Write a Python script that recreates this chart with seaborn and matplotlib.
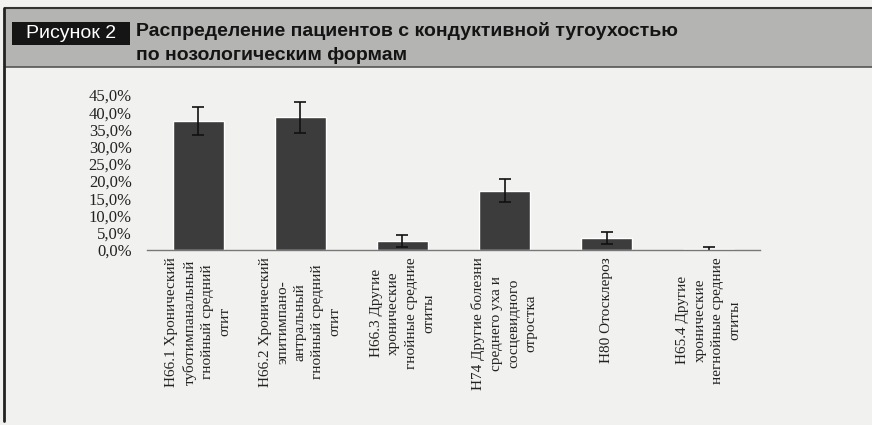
import numpy as np
import pandas as pd
import matplotlib
matplotlib.use("Agg")
import matplotlib.pyplot as plt
import seaborn as sns
from matplotlib.patches import Rectangle
from matplotlib.lines import Line2D
from matplotlib.ticker import MultipleLocator, FuncFormatter

# данные
categories = [
    "H66.1 Хронический\nтуботимпанальный\nгнойный средний\nотит",
    "H66.2 Хронический\nэпитимпано-\nантральный\nгнойный средний\nотит",
    "H66.3 Другие\nхронические\nгнойные средние\nотиты",
    "H74 Другие болезни\nсреднего уха и\nсосцевидного\nотростка",
    "H80 Отосклероз",
    "H65.4 Другие\nхронические\nнегнойные средние\nотиты",
]
values = [37.4, 38.6, 2.6, 17.2, 3.5, 0.3]
errors = [4.0, 4.5, 1.8, 3.4, 1.7, 0.6]

df = pd.DataFrame({"cat": categories, "val": values})

sns.set_theme(style="white")
plt.rcParams["font.family"] = ["Liberation Serif", "DejaVu Serif"]
sans = ["Liberation Sans Narrow", "Liberation Sans", "DejaVu Sans"]

W, H = 872, 425
fig = plt.figure(figsize=(W / 100, H / 100), dpi=100)
fig.patch.set_facecolor("#f1f1f0")

# шапка
fig.add_artist(Rectangle((5 / W, (H - 67) / H), 1, 59 / H, transform=fig.transFigure,
                         facecolor="#b4b4b2", edgecolor="none"))
fig.add_artist(Line2D([5 / W, 1], [(H - 8) / H] * 2, transform=fig.transFigure, color="#333333", lw=1.5))
fig.add_artist(Line2D([5 / W, 1], [(H - 67) / H] * 2, transform=fig.transFigure, color="#555555", lw=1.2))
fig.add_artist(Line2D([4 / W] * 2, [4 / H, (H - 8) / H], transform=fig.transFigure, color="#222222", lw=2))
fig.add_artist(Rectangle((12 / W, (H - 45) / H), 118 / W, 23 / H, transform=fig.transFigure,
                         facecolor="#151515", edgecolor="none"))
fig.text(71 / W, (H - 33.5) / H, "Рисунок 2", color="white", fontsize=14, ha="center", va="center",
         family=sans)
fig.text(136 / W, (H - 31) / H, "Распределение пациентов с кондуктивной тугоухостью", color="#141414",
         fontsize=14, ha="left", va="center", weight="bold", family=sans)
fig.text(136 / W, (H - 55) / H, "по нозологическим формам", color="#141414",
         fontsize=14, ha="left", va="center", weight="bold", family=sans)

# график
ax = fig.add_axes([147 / W, (H - 250) / H, 613 / W, 155 / H])
ax.set_facecolor("none")
sns.barplot(data=df, x="cat", y="val", color="#3c3c3c", width=0.5, errorbar=None,
            saturation=1, ax=ax)
centers = [p.get_x() + p.get_width() / 2 for p in ax.patches]
ax.errorbar(centers, values, yerr=errors, fmt="none", ecolor="#111111", elinewidth=1.2,
            capsize=4, capthick=1.2)

ax.set_ylim(0, 45)
ax.yaxis.set_major_locator(MultipleLocator(5))
ax.yaxis.set_major_formatter(FuncFormatter(lambda v, p: f"{v:.1f}%".replace(".", ",")))
ax.set_xlabel("")
ax.set_ylabel("")
for s in ["top", "right", "left"]:
    ax.spines[s].set_visible(False)
ax.spines["bottom"].set_color("#777777")
ax.spines["bottom"].set_linewidth(1)

ax.tick_params(axis="y", length=0, pad=11, labelsize=12, labelcolor="#222222")
ax.tick_params(axis="x", length=0, pad=5, labelsize=11, labelcolor="#222222")
ax.set_xticks(range(len(categories)))
ax.set_xticklabels(categories, rotation=90, ha="center", va="top")
for t in ax.get_xticklabels():
    t.set_multialignment("center")
    t.set_linespacing(1.45)
ax.set_xticks(np.arange(-0.5, len(categories), 1), minor=True)
ax.tick_params(axis="x", which="minor", length=4, color="#777777", direction="out")
ax.set_xlim(-0.5, len(categories) - 0.5)

fig.savefig("out.png", dpi=100, facecolor=fig.get_facecolor())
